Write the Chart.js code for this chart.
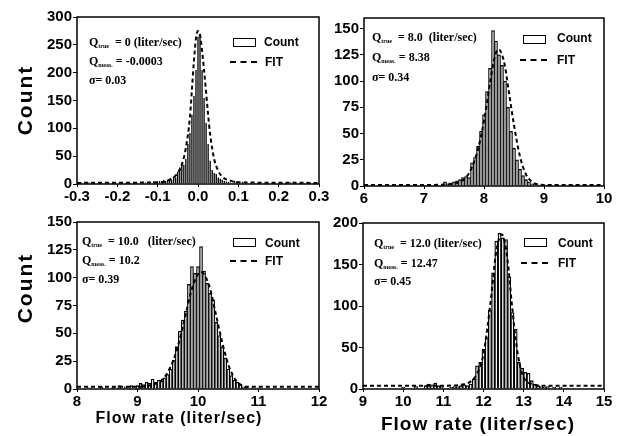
<!DOCTYPE html>
<html>
<head>
<meta charset="utf-8">
<script src="https://cdn.jsdelivr.net/npm/chart.js@4/dist/chart.umd.min.js"></script>
<style>
    body { margin: 0; background: #fff; }
    #wrap { position: relative; width: 622px; height: 436px; overflow: hidden; font-family: "Liberation Sans", Arial, sans-serif; }
    canvas { position: absolute; }
    .ytitle { position: absolute; font-weight: bold; font-size: 21px; letter-spacing: 2px; transform: rotate(-90deg); transform-origin: center; white-space: nowrap; }
    .xtitle { position: absolute; font-weight: bold; white-space: nowrap; letter-spacing: 1px; transform: translateX(-50%); }
    .note { position: absolute; font-family: "Liberation Serif", "Times New Roman", serif; font-weight: bold; font-size: 12px; white-space: nowrap; line-height: 12px; }
    .note sub { font-size: 6px; vertical-align: -2px; }
    .lgbox { position: absolute; width: 21px; height: 7px; border: 1.5px solid #000; }
    .lgdash { position: absolute; width: 27px; height: 0; border-top: 2px dashed #000; }
    .lgtext { position: absolute; font-weight: bold; font-size: 12px; line-height: 14px; }
</style>
</head>
<body>
<div id="wrap">
    <canvas id="c1" width="296" height="201" style="left:37px;top:7px"></canvas>
    <canvas id="c2" width="294" height="202" style="left:324px;top:8px"></canvas>
    <canvas id="c3" width="296" height="201" style="left:37px;top:212px"></canvas>
    <canvas id="c4" width="295" height="200" style="left:323px;top:213px"></canvas>

    <div class="ytitle" style="left:-10px;top:88px">Count</div>
    <div class="ytitle" style="left:-10px;top:276px">Count</div>
    <div class="xtitle" style="left:179px;top:409px;font-size:16px">Flow rate (liter/sec)</div>
    <div class="xtitle" style="left:478px;top:413px;font-size:19px">Flow rate (liter/sec)</div>

    <div class="note" style="left:89px;top:36px">Q<sub>true</sub> &nbsp;= 0 (liter/sec)</div>
    <div class="note" style="left:89px;top:55px">Q<sub>meas.</sub> = -0.0003</div>
    <div class="note" style="left:89px;top:74px">σ= 0.03</div>
    <div class="lgbox" style="left:233px;top:38px"></div>
    <div class="lgtext" style="left:264px;top:35px">Count</div>
    <div class="lgdash" style="left:230px;top:61px"></div>
    <div class="lgtext" style="left:265px;top:55px">FIT</div>

    <div class="note" style="left:372px;top:31px">Q<sub>true</sub> &nbsp;= 8.0 &nbsp;(liter/sec)</div>
    <div class="note" style="left:372px;top:51px">Q<sub>meas.</sub> = 8.38</div>
    <div class="note" style="left:372px;top:71px">σ= 0.34</div>
    <div class="lgbox" style="left:523px;top:35px"></div>
    <div class="lgtext" style="left:557px;top:31px">Count</div>
    <div class="lgdash" style="left:520px;top:59px"></div>
    <div class="lgtext" style="left:557px;top:53px">FIT</div>

    <div class="note" style="left:82px;top:235px">Q<sub>true</sub> &nbsp;= 10.0 &nbsp;&nbsp;(liter/sec)</div>
    <div class="note" style="left:82px;top:254px">Q<sub>meas.</sub> = 10.2</div>
    <div class="note" style="left:82px;top:273px">σ= 0.39</div>
    <div class="lgbox" style="left:233px;top:238px"></div>
    <div class="lgtext" style="left:265px;top:236px">Count</div>
    <div class="lgdash" style="left:230px;top:260px"></div>
    <div class="lgtext" style="left:265px;top:254px">FIT</div>

    <div class="note" style="left:374px;top:237px">Q<sub>true</sub> &nbsp;= 12.0 (liter/sec)</div>
    <div class="note" style="left:374px;top:257px">Q<sub>meas.</sub> = 12.47</div>
    <div class="note" style="left:374px;top:275px">σ= 0.45</div>
    <div class="lgbox" style="left:524px;top:238px"></div>
    <div class="lgtext" style="left:558px;top:236px">Count</div>
    <div class="lgdash" style="left:521px;top:262px"></div>
    <div class="lgtext" style="left:558px;top:256px">FIT</div>
</div>

<script>
// panel 1: Q true = 0
const p1Bins   = [-0.29, -0.27, -0.25, -0.23, -0.21, -0.19, -0.17, -0.15, -0.13, -0.12, -0.11, -0.10,
                  -0.095, -0.09, -0.085, -0.08, -0.075, -0.07, -0.065, -0.06, -0.055, -0.05, -0.045, -0.04,
                  -0.035, -0.03, -0.025, -0.02, -0.015, -0.01, -0.005, 0, 0.005, 0.01, 0.015, 0.02,
                  0.025, 0.03, 0.035, 0.04, 0.045, 0.05, 0.055, 0.06, 0.065, 0.07, 0.075, 0.08,
                  0.09, 0.095, 0.10, 0.11, 0.13, 0.15, 0.17, 0.19, 0.21, 0.23, 0.25, 0.27, 0.29];
const p1Counts = [3, 3, 2, 3, 2, 3, 2, 2, 3, 4, 5, 4,
                  6, 5, 7, 6, 8, 10, 7, 14, 12, 22, 30, 38,
                  35, 45, 72, 92, 125, 158, 205, 265, 270, 205, 155, 110,
                  72, 42, 25, 20, 18, 12, 10, 8, 6, 5, 4, 3,
                  6, 5, 3, 4, 2, 3, 2, 3, 2, 3, 2, 3, 2];
const p1FitX = [-0.3, -0.1, -0.08, -0.06, -0.05, -0.04, -0.03, -0.02, -0.015, -0.01, -0.005, 0,
                0.005, 0.01, 0.015, 0.02, 0.025, 0.03, 0.04, 0.05, 0.06, 0.08, 0.1, 0.3];
const p1FitY = [2, 3, 5, 12, 20, 35, 65, 120, 170, 222, 262, 275,
                268, 240, 205, 165, 125, 90, 45, 24, 13, 6, 3, 2];

// panel 2: Q true = 8.0
const p2Bins   = [7.35, 7.4, 7.45, 7.5, 7.55, 7.6, 7.65, 7.7, 7.75, 7.8, 7.85, 7.9, 7.95, 8.0,
                  8.05, 8.1, 8.15, 8.2, 8.25, 8.3, 8.35, 8.4, 8.45, 8.5, 8.55, 8.6, 8.65, 8.7,
                  8.75, 8.8, 8.85, 8.9, 9.0, 9.1];
const p2Counts = [4, 2, 3, 4, 5, 6, 8, 9, 8, 22, 27, 38, 52, 68,
                  90, 112, 148, 138, 125, 115, 100, 75, 52, 36, 25, 16, 10, 6,
                  4, 2, 2, 1, 1, 1];
const p2FitX = [6, 7.0, 7.4, 7.6, 7.7, 7.8, 7.9, 8.0, 8.1, 8.15, 8.2, 8.25, 8.3, 8.35,
                8.4, 8.5, 8.6, 8.7, 8.8, 8.9, 9.0, 10];
const p2FitY = [1, 1, 1.5, 4, 8, 18, 35, 62, 98, 115, 127, 130, 125, 114,
                95, 58, 28, 11, 4, 1.5, 1, 1];

// panel 3: Q true = 10.0
const p3Bins   = [8.2, 8.4, 8.6, 8.7, 8.8, 8.9, 9.0, 9.05, 9.1, 9.15, 9.2, 9.25, 9.3, 9.35, 9.4,
                  9.45, 9.5, 9.55, 9.6, 9.65, 9.7, 9.75, 9.8, 9.85, 9.9, 9.95, 10.0, 10.05, 10.1,
                  10.15, 10.2, 10.25, 10.3, 10.35, 10.4, 10.45, 10.5, 10.55, 10.6, 10.65, 10.7,
                  10.75, 10.8, 10.9, 11.0];
const p3Counts = [1, 2, 2, 3, 2, 3, 3, 5, 4, 6, 5, 9, 6, 8, 7,
                  10, 13, 18, 26, 38, 52, 62, 70, 94, 110, 104, 110, 128, 106,
                  95, 86, 80, 60, 48, 38, 28, 18, 12, 8, 6, 4,
                  2, 2, 1, 1];
const p3FitX = [8, 9.0, 9.2, 9.4, 9.5, 9.6, 9.7, 9.8, 9.9, 10.0, 10.05, 10.1, 10.2, 10.3,
                10.4, 10.5, 10.6, 10.7, 10.8, 12];
const p3FitY = [2, 2, 3, 8, 15, 27, 45, 68, 90, 103, 105, 103, 90, 66,
                42, 22, 10, 4, 2, 2];

// panel 4: Q true = 12.0
const p4Bins   = [10.0, 10.32, 10.56, 10.64, 10.72, 10.8, 10.88, 10.96, 11.2, 11.28, 11.36, 11.44,
                  11.52, 11.6, 11.68, 11.76, 11.84, 11.92, 12.0, 12.08, 12.16, 12.24, 12.32, 12.4,
                  12.48, 12.56, 12.64, 12.72, 12.8, 12.88, 12.96, 13.04, 13.12, 13.2, 13.28, 13.36,
                  13.44, 13.52, 13.6, 13.76, 13.92, 14.08];
const p4Counts = [2, 3, 4, 6, 5, 7, 4, 3, 2, 3, 3, 4,
                  5, 4, 6, 12, 28, 32, 48, 62, 95, 140, 178, 188,
                  182, 180, 135, 92, 72, 32, 25, 20, 19, 10, 6, 4,
                  3, 2, 3, 2, 2, 1];
const p4FitX = [9, 11, 11.6, 11.8, 11.9, 12.0, 12.1, 12.2, 12.3, 12.4, 12.45, 12.5, 12.6, 12.7,
                12.8, 12.9, 13.0, 13.2, 13.5, 15];
const p4FitY = [4, 4, 7, 15, 25, 42, 75, 115, 160, 183, 186, 183, 155, 105,
                60, 30, 14, 6, 4, 4];

const tickFont = { family: "'Liberation Sans', Arial, sans-serif", size: 15, weight: "bold" };

const framePlugin = {
    id: "frame",
    afterDatasetsDraw(chart) {
        const a = chart.chartArea;
        const ctx = chart.ctx;
        ctx.save();
        ctx.strokeStyle = "#000";
        ctx.lineWidth = 1.5;
        ctx.strokeRect(a.left, a.top, a.right - a.left, a.bottom - a.top);
        ctx.restore();
    },
};

function pts(xs, ys) {
    return xs.map((x, i) => ({ x: x, y: ys[i] }));
}

// evenly spaced ticks from 0 up to the last whole step under max
function stepTicks(max, step) {
    const out = [];
    for (let v = 0; v <= max + 1e-9; v += step) out.push({ value: v });
    return out;
}

function drawPanel(id, bins, counts, fitX, fitY, xr, yr, barPct) {
    new Chart(document.getElementById(id), {
        type: "bar",
        data: {
            datasets: [
                {
                    type: "line", label: "FIT", data: pts(fitX, fitY),
                    borderColor: "#000", borderWidth: 2, borderDash: [4, 3],
                    pointRadius: 0, cubicInterpolationMode: "monotone", fill: false,
                },
                {
                    type: "bar", label: "Count", data: pts(bins, counts),
                    backgroundColor: "#fff", borderColor: "#000", borderWidth: 1.3,
                    barPercentage: barPct, categoryPercentage: 1,
                },
            ],
        },
        options: {
            responsive: false,
            animation: false,
            layout: { padding: { top: 10, right: 14, left: 0, bottom: 0 } },
            plugins: { legend: { display: false }, tooltip: { enabled: false } },
            scales: {
                x: {
                    type: "linear", min: xr[0], max: xr[1], offset: false,
                    ticks: { stepSize: xr[2], color: "#000", font: tickFont, padding: 1,
                             maxRotation: 0, callback: v => xr[3] ? v.toFixed(xr[3]) : String(Math.round(v)) },
                    grid: { drawOnChartArea: false, offset: false, tickLength: 3, color: "#000" },
                    border: { display: false },
                    afterFit(s) { s.height = 24; },
                },
                y: {
                    min: 0, max: yr[0],
                    ticks: { stepSize: yr[1], color: "#000", font: tickFont, padding: 1 },
                    grid: { drawOnChartArea: false, tickLength: 4, color: "#000" },
                    border: { display: false },
                    afterBuildTicks(s) { s.ticks = stepTicks(yr[0], yr[1]); },
                    afterFit(s) { s.width = 40; },
                },
            },
        },
        plugins: [framePlugin],
    });
}

drawPanel("c1", p1Bins, p1Counts, p1FitX, p1FitY, [-0.3, 0.3, 0.1, 1], [300, 50], 0.8);
drawPanel("c2", p2Bins, p2Counts, p2FitX, p2FitY, [6, 10, 1, 0], [160, 25], 1);
drawPanel("c3", p3Bins, p3Counts, p3FitX, p3FitY, [8, 12, 1, 0], [150, 25], 1);
drawPanel("c4", p4Bins, p4Counts, p4FitX, p4FitY, [9, 15, 1, 0], [200, 50], 1);
</script>
</body>
</html>
